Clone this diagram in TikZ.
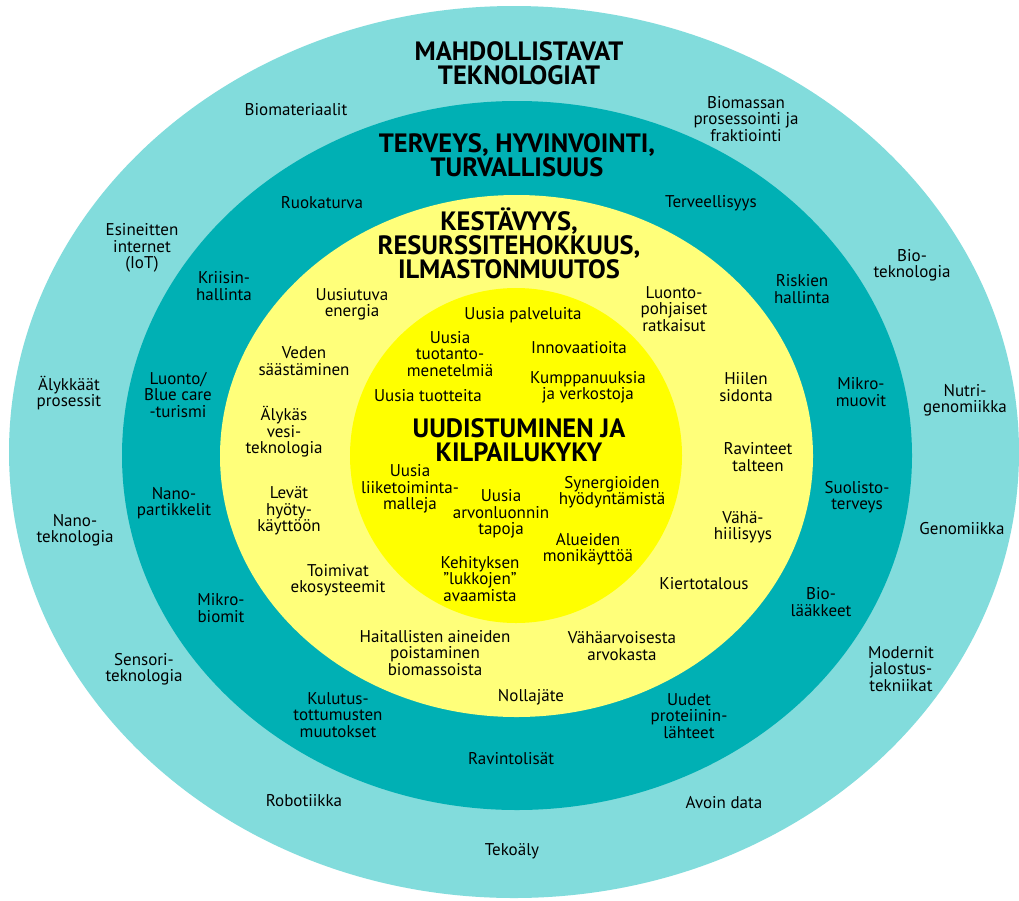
\documentclass[tikz,border=0pt]{standalone}
\usepackage{fontspec}
\setmainfont{PT Sans}
\definecolor{ringA}{RGB}{130,220,220}
\definecolor{ringB}{RGB}{0,176,180}
\definecolor{ringC}{RGB}{255,255,122}
\definecolor{ringD}{RGB}{255,255,0}
\newcommand\bodyfs{\fontsize{17}{16.4}\selectfont}
\newcommand\headfs{\fontsize{26.5}{24}\selectfont\bfseries}
\begin{document}
\begin{tikzpicture}[x=1pt,y=-1pt,
  lbl/.style={align=center,font=\bodyfs,inner sep=0pt,text=black},
  head/.style={align=center,font=\headfs,inner sep=0pt,text=black}]
\useasboundingbox (0,0) rectangle (1019,900);
\fill[white] (0,0) rectangle (1019,900);
\fill[ringA] (514,452) ellipse [x radius=505pt, y radius=446pt];
\fill[ringB] (517,455.5) ellipse [x radius=395pt, y radius=354.5pt];
\fill[ringC] (516.5,456) ellipse [x radius=296.5pt, y radius=261pt];
\fill[ringD] (516,455.5) ellipse [x radius=166pt, y radius=167.5pt];
% outer ring
\node[head] (hA) at (519,63) {MAHDOLLISTAVAT\\TEKNOLOGIAT};
\node[lbl] (a1) at (296,110) {Biomateriaalit};
\node[lbl] (a2) at (746,119) {Biomassan\\prosessointi ja\\fraktiointi};
\node[lbl] (a3) at (142,248) {Esineitten\\internet\\(IoT)};
\node[lbl] (a4) at (912,265) {Bio-\\teknologia};
\node[lbl] (a5) at (69,393) {Älykkäät\\prosessit};
\node[lbl] (a6) at (965,400) {Nutri-\\genomiikka};
\node[lbl] (a7) at (75,530) {Nano-\\teknologia};
\node[lbl] (a8) at (962,529) {Genomiikka};
\node[lbl] (a9) at (144,669) {Sensori-\\teknologia};
\node[lbl] (a10) at (901,669) {Modernit\\jalostus-\\tekniikat};
\node[lbl] (a11) at (304,801) {Robotiikka};
\node[lbl] (a12) at (724,803) {Avoin data};
\node[lbl] (a13) at (512,851) {Tekoäly};
% teal ring
\node[head] (hB) at (517,155) {TERVEYS, HYVINVOINTI,\\TURVALLISUUS};
\node[lbl] (b1) at (322,203) {Ruokaturva};
\node[lbl] (b2) at (711,203) {Terveellisyys};
\node[lbl] (b3) at (224,286) {Kriisin-\\hallinta};
\node[lbl] (b4) at (802,289) {Riskien\\hallinta};
\node[lbl] (b5) at (178,395) {Luonto/\\Blue care\\-turismi};
\node[lbl] (b6) at (861,392) {Mikro-\\muovit};
\node[lbl] (b7) at (174,503) {Nano-\\partikkelit};
\node[lbl] (b8) at (857,497) {Suolisto-\\terveys};
\node[lbl] (b9) at (221,608) {Mikro-\\biomit};
\node[lbl] (b10) at (821,602) {Bio-\\lääkkeet};
\node[lbl] (b11) at (338,715) {Kulutus-\\tottumusten\\muutokset};
\node[lbl] (b12) at (689,716) {Uudet\\proteiinin-\\lähteet};
\node[lbl] (b13) at (511,759) {Ravintolisät};
% light yellow ring
\node[head] (hC) at (509,243) {KESTÄVYYS,\\RESURSSITEHOKKUUS,\\ILMASTONMUUTOS};
\node[lbl] (c1) at (352,304) {Uusiutuva\\energia};
\node[lbl] (c2) at (674,309) {Luonto-\\pohjaiset\\ratkaisut};
\node[lbl] (c3) at (304,361) {Veden\\säästäminen};
\node[lbl] (c4) at (746,387) {Hiilen\\sidonta};
\node[lbl] (c5) at (284,432) {Älykäs\\vesi-\\teknologia};
\node[lbl] (c6) at (758,457) {Ravinteet\\talteen};
\node[lbl] (c7) at (289,511) {Levät\\hyöty-\\käyttöön};
\node[lbl] (c8) at (743,527) {Vähä-\\hiilisyys};
\node[lbl] (c9) at (338,580) {Toimivat\\ekosysteemit};
\node[lbl] (c10) at (704,584) {Kiertotalous};
\node[lbl] (c11) at (435,653) {Haitallisten aineiden\\poistaminen\\biomassoista};
\node[lbl] (c12) at (622,646) {Vähäarvoisesta\\arvokasta};
\node[lbl] (c13) at (531,697) {Nollajäte};
% inner yellow
\node[head] (hD) at (519,440) {UUDISTUMINEN JA\\KILPAILUKYKY};
\node[lbl] (d1) at (523,315) {Uusia palveluita};
\node[lbl] (d2) at (450,354) {Uusia\\tuotanto-\\menetelmiä};
\node[lbl] (d3) at (579,348) {Innovaatioita};
\node[lbl] (d4) at (428,396) {Uusia tuotteita};
\node[lbl] (d5) at (588,387) {Kumppanuuksia\\ja verkostoja};
\node[lbl] (d6) at (410,489) {Uusia\\liiketoiminta-\\malleja};
\node[lbl] (d7) at (501,514) {Uusia\\arvonluonnin\\tapoja};
\node[lbl] (d8) at (612,492) {Synergioiden\\hyödyntämistä};
\node[lbl] (d9) at (588,549) {Alueiden\\monikäyttöä};
\node[lbl] (d10) at (480,579) {Kehityksen\\”lukkojen”\\avaamista};
\end{tikzpicture}
\end{document}
